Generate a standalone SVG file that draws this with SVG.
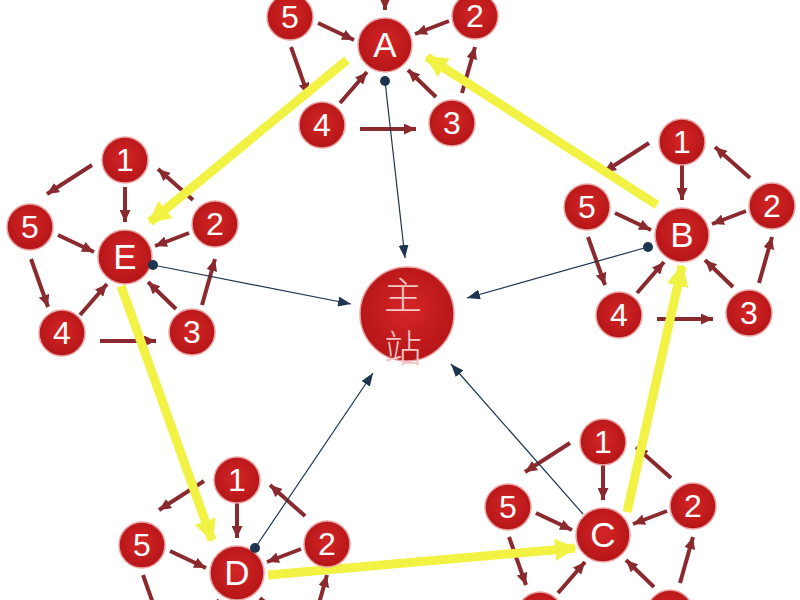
<svg xmlns="http://www.w3.org/2000/svg" width="800" height="600" viewBox="0 0 800 600">
<defs>
<radialGradient id="red" cx="50%" cy="45%" r="55%">
<stop offset="0" stop-color="#d42626"/>
<stop offset="1" stop-color="#b51518"/>
</radialGradient>
<marker id="ah" markerUnits="userSpaceOnUse" markerWidth="12" markerHeight="11" refX="12" refY="5.5" orient="auto">
<path d="M0,0 L12,5.5 L0,11 z" fill="#8a2a2f"/>
</marker>
<marker id="nh" markerUnits="userSpaceOnUse" markerWidth="13" markerHeight="10" refX="13" refY="5" orient="auto">
<path d="M0,0 L13,5 L0,10 z" fill="#1e3550"/>
</marker>
<marker id="yh" markerUnits="userSpaceOnUse" markerWidth="22" markerHeight="22" refX="20" refY="11" orient="auto">
<path d="M0,0 L22,11 L0,22 z" fill="#f2f244"/>
</marker>
<style>
.hub,.sat,.main{fill:url(#red);stroke:#e9a3a3;stroke-width:1.5}
.hl{font-family:"Liberation Sans",Arial,sans-serif;font-size:35px;fill:#fff;text-anchor:middle}
.sl{font-family:"Liberation Sans",Arial,sans-serif;font-size:32px;fill:#fff;text-anchor:middle}
.cj{font-family:"Noto Sans CJK SC",sans-serif;font-size:38px;font-weight:300;fill:#f3c6c6;text-anchor:middle}
.yl{stroke:#f2f244;stroke-width:9;fill:none;marker-end:url(#yh)}
.nv{stroke:#1e3550;stroke-width:1.2;marker-end:url(#nh)}
.dot{fill:#1e3550}
</style>
<g id="tplLines" stroke="#8a2a2f" stroke-width="4" marker-end="url(#ah)">
<line x1="0" y1="-70" x2="0" y2="-35"/>
<line x1="-33" y1="-92" x2="-78" y2="-63"/>
<line x1="68" y1="-57" x2="33" y2="-88"/>
<line x1="64" y1="-24" x2="30" y2="-11"/>
<line x1="-67" y1="-22" x2="-31" y2="-5"/>
<line x1="-94" y1="2" x2="-77" y2="50"/>
<line x1="-45" y1="58" x2="-18" y2="27"/>
<line x1="51" y1="52" x2="23" y2="25"/>
<line x1="77" y1="48" x2="90" y2="2"/>
<line x1="-25" y1="84" x2="31" y2="84"/>
</g>
</defs>
<rect width="800" height="600" fill="#ffffff"/>
<g id="connectors">
<use href="#tplLines" transform="translate(385,45)"/>
<use href="#tplLines" transform="translate(682,235)"/>
<use href="#tplLines" transform="translate(603,535)"/>
<use href="#tplLines" transform="translate(237,573)"/>
<use href="#tplLines" transform="translate(125,257)"/>
<path class="yl" d="M657,205 L427,57"/>
<path class="yl" d="M347,60 L150,222"/>
<path class="yl" d="M121,286 L212,540"/>
<path class="yl" d="M268,575 L575,548"/>
<path class="yl" d="M627,512 L682,266"/>
<line class="nv" x1="385" y1="81" x2="405" y2="258"/>
<line class="nv" x1="153" y1="265" x2="351" y2="304"/>
<line class="nv" x1="648" y1="247" x2="467" y2="298"/>
<line class="nv" x1="255" y1="548" x2="373" y2="373"/>
<line class="nv" x1="583" y1="514" x2="451" y2="364"/>
</g>
<g id="nodes">
<g id="main"><circle class="main" cx="407" cy="314" r="47"/><text class="cj" x="403" y="309">主</text><text class="cj" x="403" y="362">站</text></g>
<g transform="translate(385,45)">
<g id="A"><circle class="hub" r="27"/><text class="hl" y="12">A</text></g>
<g id="A1" transform="translate(0,-93)"><circle class="sat" r="23"/><text class="sl" y="11">1</text></g>
<g id="A5" transform="translate(-95,-28)"><circle class="sat" r="23"/><text class="sl" y="11">5</text></g>
<g id="A2" transform="translate(90,-29)"><circle class="sat" r="23"/><text class="sl" y="11">2</text></g>
<g id="A4" transform="translate(-63,80)"><circle class="sat" r="23"/><text class="sl" y="11">4</text></g>
<g id="A3" transform="translate(67,78)"><circle class="sat" r="23"/><text class="sl" y="11">3</text></g>
</g>
<g transform="translate(682,235)">
<g id="B"><circle class="hub" r="27"/><text class="hl" y="12">B</text></g>
<g id="B1" transform="translate(0,-93)"><circle class="sat" r="23"/><text class="sl" y="11">1</text></g>
<g id="B5" transform="translate(-95,-28)"><circle class="sat" r="23"/><text class="sl" y="11">5</text></g>
<g id="B2" transform="translate(90,-29)"><circle class="sat" r="23"/><text class="sl" y="11">2</text></g>
<g id="B4" transform="translate(-63,80)"><circle class="sat" r="23"/><text class="sl" y="11">4</text></g>
<g id="B3" transform="translate(67,78)"><circle class="sat" r="23"/><text class="sl" y="11">3</text></g>
</g>
<g transform="translate(603,535)">
<g id="C"><circle class="hub" r="27"/><text class="hl" y="12">C</text></g>
<g id="C1" transform="translate(0,-93)"><circle class="sat" r="23"/><text class="sl" y="11">1</text></g>
<g id="C5" transform="translate(-95,-28)"><circle class="sat" r="23"/><text class="sl" y="11">5</text></g>
<g id="C2" transform="translate(90,-29)"><circle class="sat" r="23"/><text class="sl" y="11">2</text></g>
<g id="C4" transform="translate(-63,80)"><circle class="sat" r="23"/><text class="sl" y="11">4</text></g>
<g id="C3" transform="translate(67,78)"><circle class="sat" r="23"/><text class="sl" y="11">3</text></g>
</g>
<g transform="translate(237,573)">
<g id="D"><circle class="hub" r="27"/><text class="hl" y="12">D</text></g>
<g id="D1" transform="translate(0,-93)"><circle class="sat" r="23"/><text class="sl" y="11">1</text></g>
<g id="D5" transform="translate(-95,-28)"><circle class="sat" r="23"/><text class="sl" y="11">5</text></g>
<g id="D2" transform="translate(90,-29)"><circle class="sat" r="23"/><text class="sl" y="11">2</text></g>
<g id="D4" transform="translate(-63,80)"><circle class="sat" r="23"/><text class="sl" y="11">4</text></g>
<g id="D3" transform="translate(67,78)"><circle class="sat" r="23"/><text class="sl" y="11">3</text></g>
</g>
<g transform="translate(125,257)">
<g id="E"><circle class="hub" r="27"/><text class="hl" y="12">E</text></g>
<g id="E1" transform="translate(0,-97)"><circle class="sat" r="23"/><text class="sl" y="11">1</text></g>
<g id="E5" transform="translate(-95,-30)"><circle class="sat" r="23"/><text class="sl" y="11">5</text></g>
<g id="E2" transform="translate(90,-33)"><circle class="sat" r="23"/><text class="sl" y="11">2</text></g>
<g id="E4" transform="translate(-63,76)"><circle class="sat" r="23"/><text class="sl" y="11">4</text></g>
<g id="E3" transform="translate(67,75)"><circle class="sat" r="23"/><text class="sl" y="11">3</text></g>
</g>
</g>
<g id="ends">
<circle class="dot" cx="385" cy="81" r="5"/>
<circle class="dot" cx="153" cy="265" r="5"/>
<circle class="dot" cx="648" cy="247" r="5"/>
<circle class="dot" cx="255" cy="548" r="5"/>
</g>
</svg>
